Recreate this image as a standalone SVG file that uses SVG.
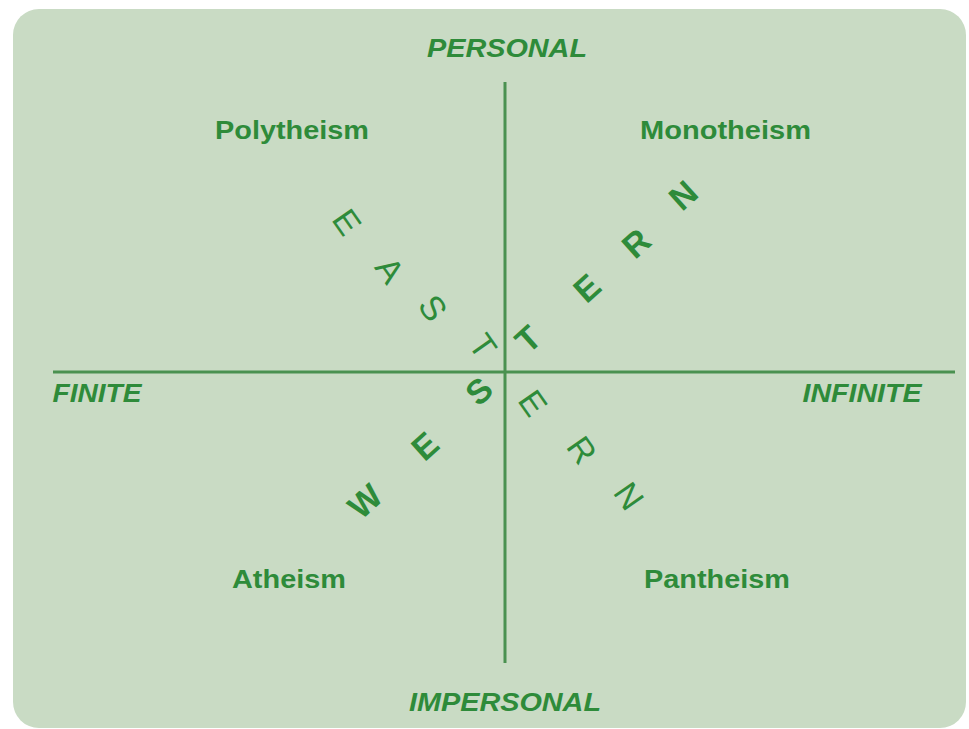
<svg xmlns="http://www.w3.org/2000/svg" width="969" height="729" viewBox="0 0 969 729">
<style>
.card{fill:#c9dbc4;}
.ax{stroke:#4a9150;stroke-width:3;fill:none;}
.lbl{font-family:"Liberation Sans",Arial,sans-serif;font-weight:bold;font-size:25px;fill:#2e8b3a;text-anchor:middle;}
.it{font-style:italic;}
.lt{font-family:"Liberation Sans",Arial,sans-serif;font-size:34px;fill:#2e8b3a;text-anchor:middle;}
.thin{font-weight:normal;}
.bold{font-weight:bold;}
</style>
<rect width="969" height="729" fill="#ffffff"/>
<rect class="card" x="13" y="9" width="953" height="719" rx="26" ry="26"/>
<g id="connectors">
<line class="ax" x1="53" y1="372" x2="955" y2="372"/>
<line class="ax" x1="505" y1="82" x2="505" y2="663"/>
</g>
<g id="personal"><text class="lbl it" x="507" y="57" textLength="160" lengthAdjust="spacingAndGlyphs">PERSONAL</text></g>
<g id="impersonal"><text class="lbl it" x="505" y="711" textLength="192" lengthAdjust="spacingAndGlyphs">IMPERSONAL</text></g>
<g id="finite"><text class="lbl it" x="97" y="402" textLength="89" lengthAdjust="spacingAndGlyphs">FINITE</text></g>
<g id="infinite"><text class="lbl it" x="862" y="402" textLength="119" lengthAdjust="spacingAndGlyphs">INFINITE</text></g>
<g id="polytheism"><text class="lbl" x="292" y="139" textLength="154" lengthAdjust="spacingAndGlyphs">Polytheism</text></g>
<g id="monotheism"><text class="lbl" x="725.5" y="139" textLength="171" lengthAdjust="spacingAndGlyphs">Monotheism</text></g>
<g id="atheism"><text class="lbl" x="289" y="588" textLength="114" lengthAdjust="spacingAndGlyphs">Atheism</text></g>
<g id="pantheism"><text class="lbl" x="717" y="588" textLength="146" lengthAdjust="spacingAndGlyphs">Pantheism</text></g>
<g id="eastern" class="lt thin">
<text transform="translate(347,222) rotate(55)" y="12">E</text>
<text transform="translate(390,270) rotate(55)" y="12">A</text>
<text transform="translate(433,308) rotate(55)" y="12">S</text>
<text transform="translate(483,346) rotate(55)" y="12">T</text>
<text transform="translate(533,403) rotate(55)" y="12">E</text>
<text transform="translate(582,450) rotate(55)" y="12">R</text>
<text transform="translate(629,496) rotate(55)" y="12">N</text>
</g>
<g id="western" class="lt bold">
<text transform="translate(365,501) rotate(-42)" y="12">W</text>
<text transform="translate(425,446) rotate(-42)" y="12">E</text>
<text transform="translate(479,391) rotate(-42)" y="12">S</text>
<text transform="translate(528,339) rotate(-42)" y="12">T</text>
<text transform="translate(587,288) rotate(-42)" y="12">E</text>
<text transform="translate(636,243) rotate(-42)" y="12">R</text>
<text transform="translate(683,195) rotate(-42)" y="12">N</text>
</g>
</svg>
